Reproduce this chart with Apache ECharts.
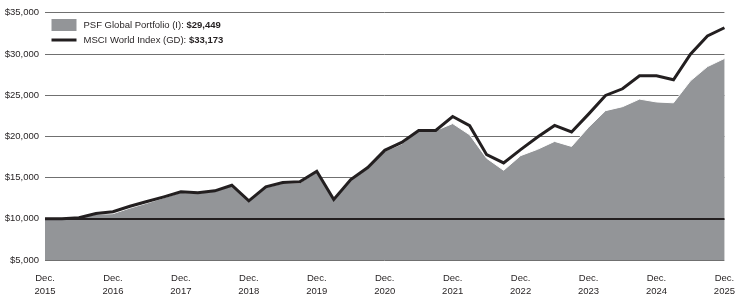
<!DOCTYPE html>
<html>
<head>
<meta charset="utf-8">
<script src="https://cdn.jsdelivr.net/npm/echarts@6/dist/echarts.min.js"></script>
<style>
html,body{margin:0;padding:0;background:#fff;}
#chart{width:738px;height:300px;}
</style>
</head>
<body>
<div id="chart"></div>
<script>
var years = [2015, 2016, 2017, 2018, 2019, 2020, 2021, 2022, 2023, 2024, 2025];
var months = ['Mar.', 'Jun.', 'Sep.', 'Dec.'];
var categories = ['Dec. 2015'];
for (var y = 1; y < years.length; y++) {
  for (var m = 0; m < months.length; m++) categories.push(months[m] + ' ' + years[y]);
}

var psfName = 'PSF Global Portfolio (I)';
var psfEnd = '$29,449';
var msciName = 'MSCI World Index (GD)';
var msciEnd = '$33,173';

var psf = [10000, 9980, 10120, 10550, 10620, 11300, 11900, 12550, 13200, 13100,
  13350, 14000, 12150, 13800, 14300, 14350, 15700, 12300, 14700, 16100,
  18180, 19070, 20720, 20700, 21550, 20190, 17340, 15880, 17660, 18430,
  19390, 18780, 21100, 23120, 23600, 24520, 24170, 24070, 26730, 28460, 29449];

var msci = [10000, 9990, 10120, 10640, 10850, 11520, 12090, 12660, 13270, 13150,
  13390, 14070, 12180, 13870, 14400, 14480, 15760, 12340, 14760, 16220,
  18300, 19270, 20720, 20720, 22410, 21290, 17780, 16780, 18390, 19920,
  21320, 20530, 22700, 24960, 25770, 27340, 27340, 26860, 29970, 32180, 33173];

var yTicks = [5000, 10000, 15000, 20000, 25000, 30000, 35000];
var baseline = 10000;

var FONT = '"Liberation Sans", Arial, sans-serif';
var chart = echarts.init(document.getElementById('chart'), null, {renderer: 'canvas'});
var ends = {};
ends[psfName] = psfEnd;
ends[msciName] = msciEnd;

chart.setOption({
  animation: false,
  backgroundColor: '#ffffff',
  grid: {left: 45, right: 12, top: 12.7, bottom: 40, containLabel: false},
  legend: {
    orient: 'vertical',
    left: 50,
    top: 19,
    padding: 0,
    itemWidth: 25,
    itemHeight: 12,
    itemGap: 4,
    formatter: function (n) { return '{a|' + n + ': }{b|' + ends[n] + '}'; },
    textStyle: {
      fontFamily: FONT, fontSize: 9.5, color: '#231f20', padding: [0, 0, 0, 2],
      rich: {
        a: {fontFamily: FONT, fontSize: 9.5, color: '#231f20'},
        b: {fontFamily: FONT, fontSize: 9.5, color: '#231f20', fontWeight: 'bold'}
      }
    },
    data: [
      {name: psfName, icon: 'rect', itemStyle: {color: '#939598'}},
      {name: msciName, itemStyle: {color: 'transparent', borderWidth: 0}, lineStyle: {color: '#231f20', width: 3}}
    ]
  },
  xAxis: {
    type: 'category',
    data: categories,
    boundaryGap: false,
    axisLine: {show: false},
    axisTick: {show: false},
    splitLine: {show: false},
    axisLabel: {
      interval: 3,
      margin: 12,
      fontFamily: FONT,
      fontSize: 9.5,
      lineHeight: 13,
      color: '#231f20',
      formatter: function (v) { return v.replace(' ', '\n'); }
    }
  },
  yAxis: {
    type: 'value',
    min: yTicks[0],
    max: yTicks[yTicks.length - 1],
    interval: 5000,
    axisLine: {show: false},
    axisTick: {show: false},
    splitLine: {show: true, lineStyle: {color: '#707070', width: 1}},
    axisLabel: {
      margin: 6,
      fontFamily: FONT,
      fontSize: 9.5,
      color: '#231f20',
      formatter: function (v) { return '$' + v.toLocaleString('en-US'); }
    }
  },
  series: [
    {
      name: psfName,
      type: 'line',
      data: psf,
      symbol: 'none',
      itemStyle: {color: '#939598'},
      lineStyle: {color: '#ffffff', width: 1},
      areaStyle: {color: '#939598', opacity: 1, origin: 'start'},
      z: 2,
      markLine: {
        silent: true,
        symbol: 'none',
        label: {show: false},
        lineStyle: {color: '#231f20', width: 2, type: 'solid'},
        data: [{yAxis: baseline}]
      }
    },
    {
      name: msciName,
      type: 'line',
      data: msci,
      symbol: 'none',
      itemStyle: {color: '#231f20'},
      lineStyle: {color: '#231f20', width: 3, join: 'miter'},
      z: 4
    }
  ]
});
</script>
</body>
</html>
